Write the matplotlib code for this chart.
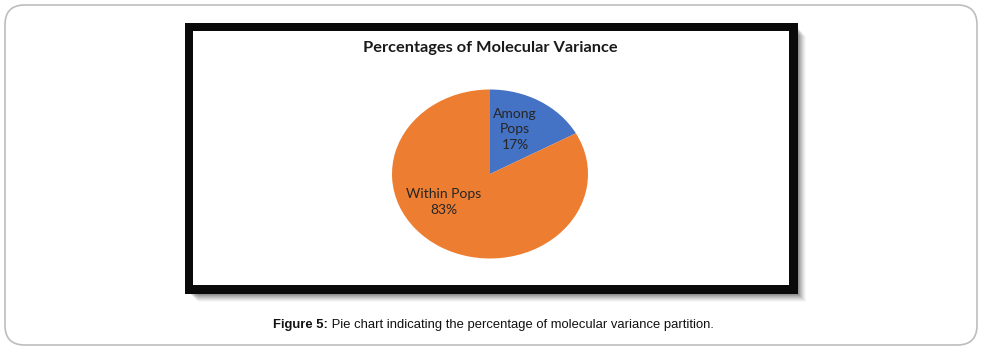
import matplotlib.pyplot as plt
from matplotlib.patches import Rectangle, FancyBboxPatch

# AMOVA partition
categories = ['Among\nPops', 'Within Pops']
percentages = [17, 83]
colors = ['#4472C4', '#ED7D31']
title = 'Percentages of Molecular Variance'
caption_bold = 'Figure 5:'
caption_rest = ' Pie chart indicating the percentage of molecular variance partition.'

W, H = 982, 350
fig = plt.figure(figsize=(W / 100, H / 100), dpi=100)
fig.patch.set_facecolor('white')


def px_rect(x0, y0, x1, y1):
    # pixel box (top-left origin) -> figure fraction
    return (x0 / W, 1 - y1 / H, (x1 - x0) / W, (y1 - y0) / H)


# light rounded border round the whole figure block
l, b, w, h = px_rect(5, 5, 977, 345)
fig.patches.append(FancyBboxPatch((l, b), w, h, boxstyle='round,pad=0,rounding_size=0.02',
                                  transform=fig.transFigure, facecolor='none',
                                  edgecolor='#bdbdbd', linewidth=1.2, mutation_aspect=W / H))

# soft drop shadow behind the black frame
for i, a in enumerate([0.10, 0.10, 0.09, 0.08, 0.07, 0.06, 0.05, 0.04, 0.03]):
    l, b, w, h = px_rect(190 + i, 28 + i, 798 + i, 294 + i)
    fig.patches.append(Rectangle((l, b), w, h, transform=fig.transFigure,
                                 facecolor='black', alpha=a, edgecolor='none', zorder=0))

# black frame and white chart area
l, b, w, h = px_rect(185, 23, 798, 294)
fig.patches.append(Rectangle((l, b), w, h, transform=fig.transFigure,
                             facecolor='#0a0a0a', edgecolor='none', zorder=1))
l, b, w, h = px_rect(193, 31, 789, 285)
fig.patches.append(Rectangle((l, b), w, h, transform=fig.transFigure,
                             facecolor='white', edgecolor='none', zorder=2))

fig.text(490 / W, 1 - 48 / H, title, ha='center', va='center', fontsize=11.8,
         fontweight='bold', family='Lato', color='#1a1a1a', zorder=3)

# pie drawn slightly wider than tall
cx, cy, rx, ry = 490, 174, 98, 84.5
ax = fig.add_axes(px_rect(cx - rx, cy - ry, cx + rx, cy + ry))
ax.pie(percentages, colors=colors, startangle=90, counterclock=False, radius=1,
       wedgeprops=dict(linewidth=0))
ax.set_xlim(-1, 1)
ax.set_ylim(-1, 1)
ax.set_aspect('auto')
ax.set_zorder(3)
ax.axis('off')

label_pos = [(0.255, 0.53), (-0.47, -0.33)]
for name, pct, (x, y) in zip(categories, percentages, label_pos):
    ax.text(x, y, f'{name}\n{pct}%', ha='center', va='center', fontsize=10,
            family='Lato', color='#262626', linespacing=1.35)

# caption under the chart
cap = fig.text(273 / W, 1 - 325 / H, caption_bold, ha='left', va='center', fontsize=9.4,
               fontweight='bold', family='Liberation Sans', color='#111111')
fig.canvas.draw()
bb = cap.get_window_extent()
fig.text(bb.x1 / W, 1 - 325 / H, caption_rest, ha='left', va='center', fontsize=9.4,
         family='Liberation Sans', color='#111111')

fig.savefig('out.png', dpi=100)
